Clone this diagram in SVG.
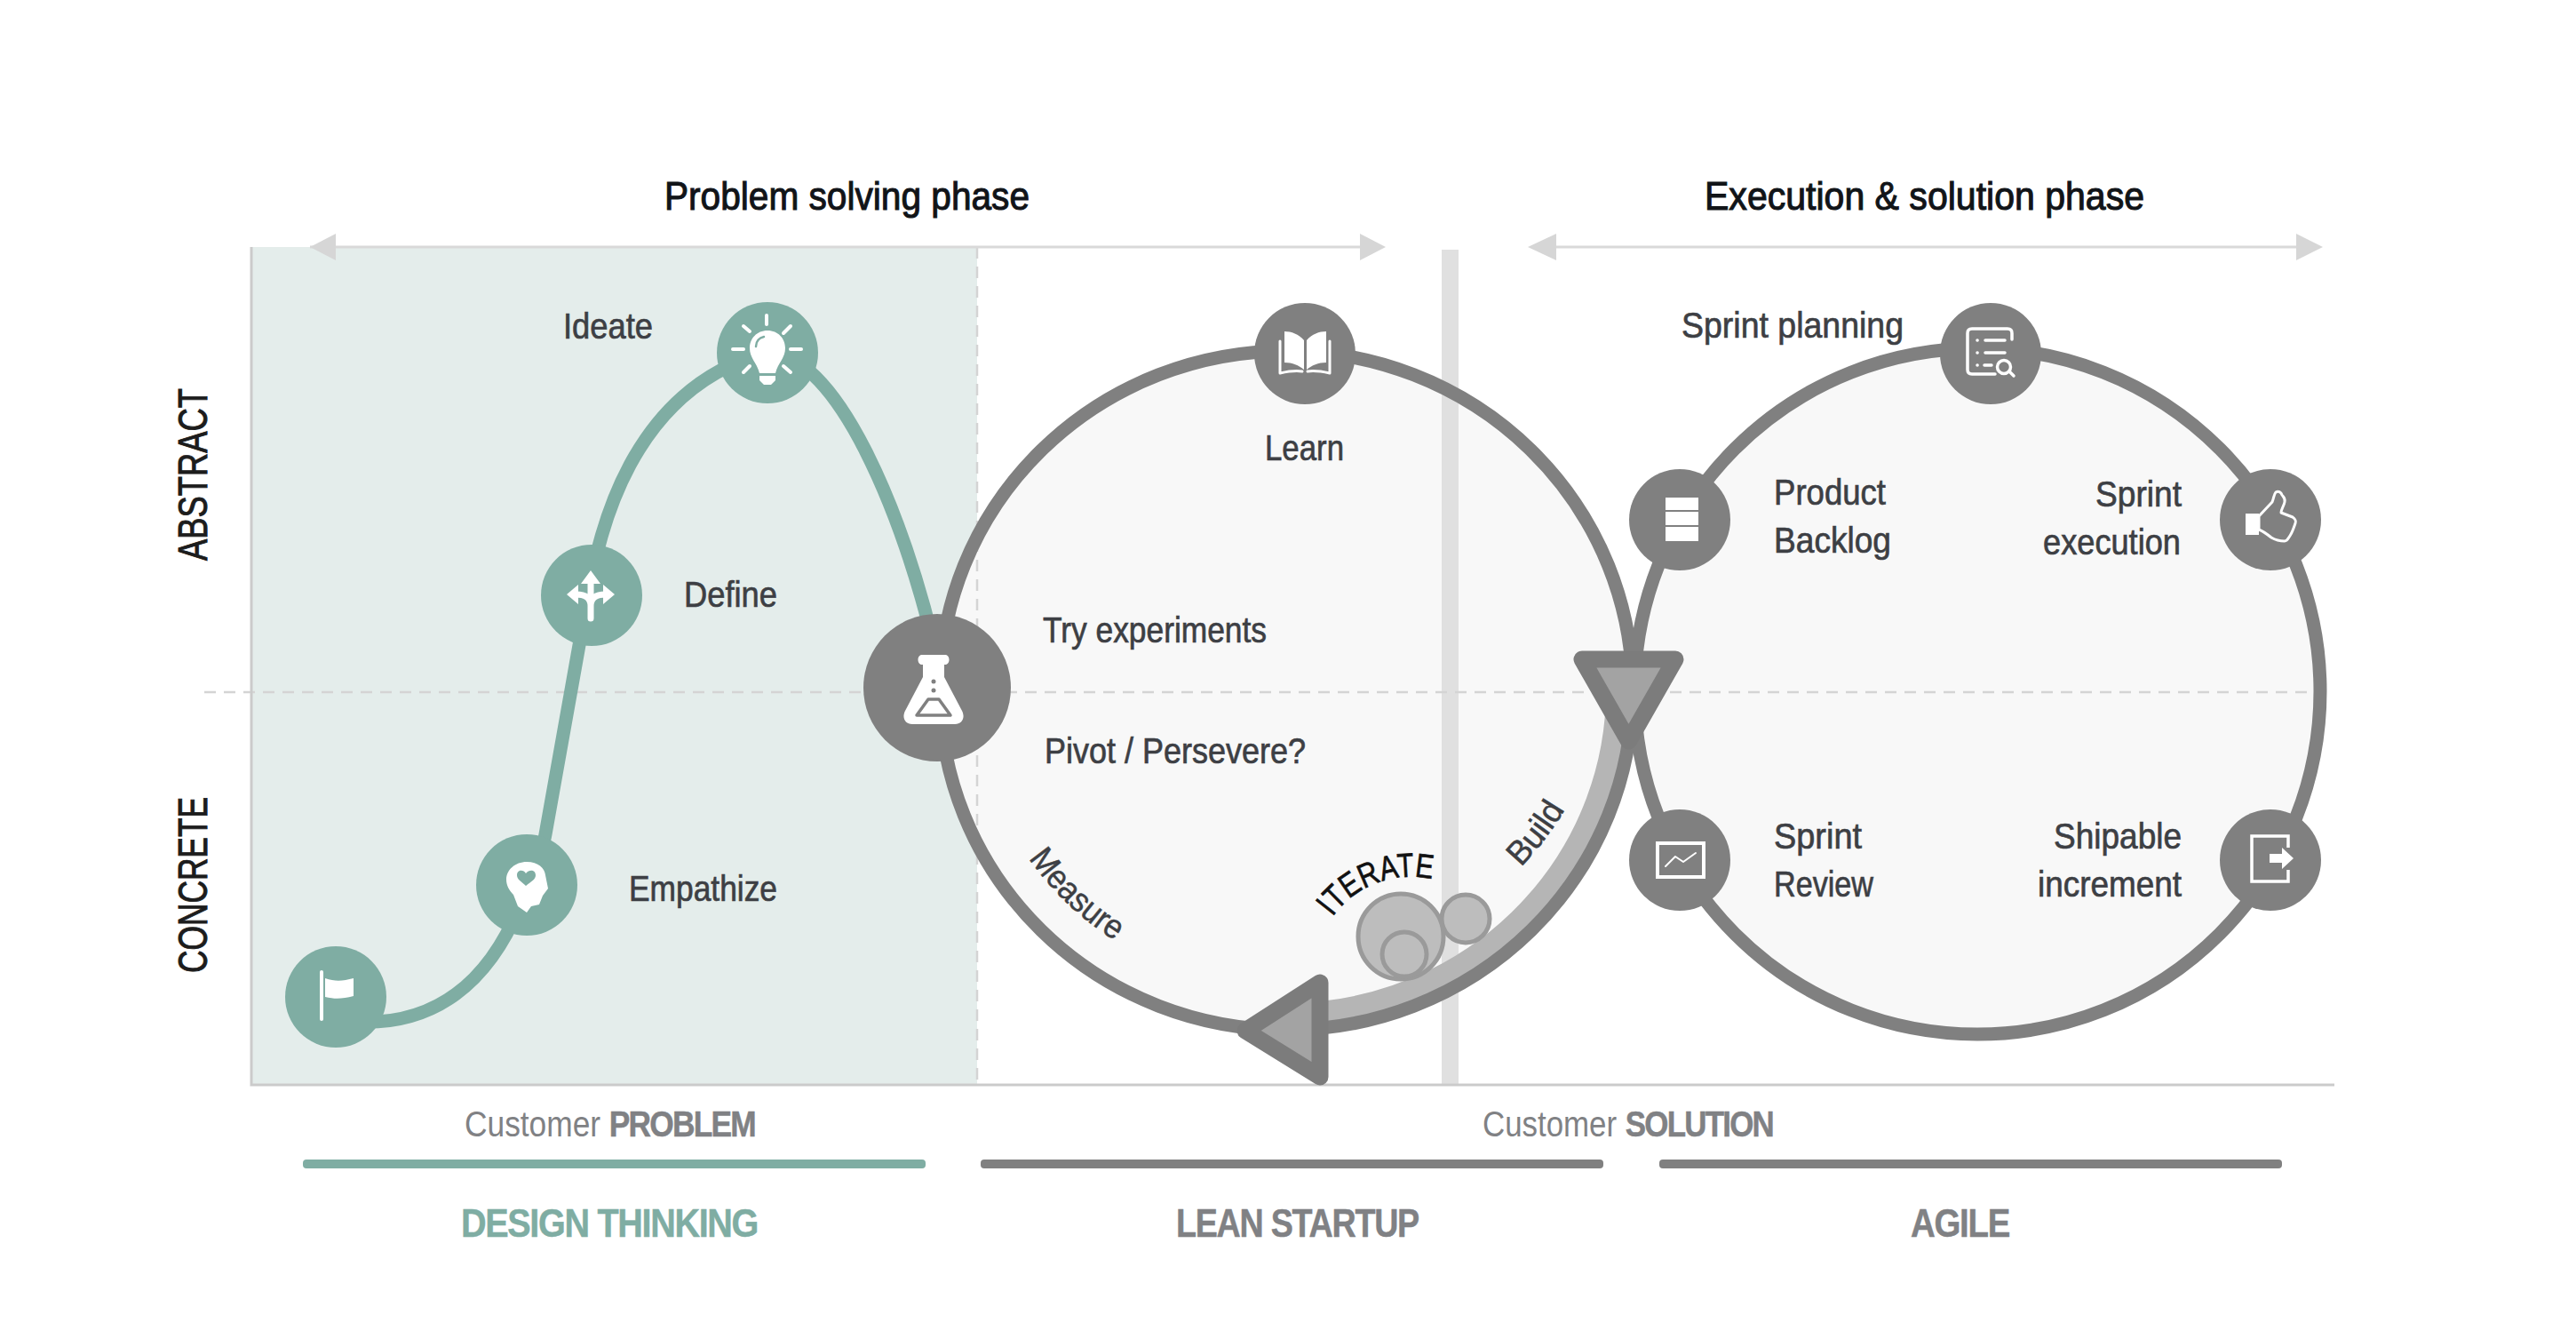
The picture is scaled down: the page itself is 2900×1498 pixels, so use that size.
<svg xmlns="http://www.w3.org/2000/svg" width="2900" height="1498" viewBox="0 0 2900 1498">
<defs><style>
text{font-family:"Liberation Sans Narrow","Liberation Sans",Arial,sans-serif;}
.lbl{font-size:41px;fill:#3d3f44;stroke:#3d3f44;stroke-width:.7px;}
.ttl{font-size:45px;fill:#111418;stroke:#111418;stroke-width:1.1px;}
.axis{font-family:"Liberation Sans",Arial,sans-serif;font-size:47px;fill:#1c1c1c;stroke:#1c1c1c;stroke-width:1px;}
.cust{font-size:40px;fill:#808184;}
.cust tspan{font-weight:700;letter-spacing:-2px;stroke:#808184;stroke-width:.5px;}
.meth{font-size:45px;font-weight:700;fill:#808184;letter-spacing:-1.500px;stroke:#808184;stroke-width:.5px;}
.nt{fill:#7fada3;}
.ng{fill:#808080;}
.ic{fill:none;stroke:#fff;stroke-linecap:round;stroke-linejoin:round;}
.wf{fill:#fff;}
.loop{fill:none;stroke:#808080;stroke-width:15;}
.dash{fill:none;stroke:#d4d4d4;stroke-width:2.5;stroke-dasharray:13 9;}
.tri{fill:#a3a3a3;stroke:#7c7c7c;stroke-width:19;stroke-linejoin:round;}
.bub{stroke:#9a9a9a;stroke-width:5;fill:#bdbdbd;}
.arw{fill:#d6d6d6;}
.curve{stroke:#3d3f44;stroke-width:.5px;}
</style></defs>
<rect width="2900" height="1498" fill="#fff"/>
<g id="background">
<rect x="283" y="278" width="817" height="943" fill="#e4edeb"/>
<ellipse cx="1448" cy="777" rx="390" ry="382" fill="#f8f8f8"/>
<circle cx="2226" cy="778" r="386" fill="#f8f8f8"/>
<rect x="1623" y="281" width="19" height="940" fill="#e0e0e0"/>
<path d="M230 779H2622" class="dash"/>
<path d="M1100 278V1221" class="dash"/>
<path d="M283 278V1221H2628" fill="none" stroke="#cbcbcb" stroke-width="3"/>
</g>
<g id="phase-arrows">
<path d="M349 278H1535M1725 278H2590" fill="none" stroke="#d9d9d9" stroke-width="3"/>
<polygon class="arw" points="349,278 378,263 378,293"/>
<polygon class="arw" points="1560,278 1531,263 1531,293"/>
<polygon class="arw" points="1720,278 1752,263 1752,293"/>
<polygon class="arw" points="2615,278 2585,263 2585,293"/>
</g>
<g id="connectors">
<path d="M400 1150C490 1155 550 1105 585 1020C597 995 608 972 614 939L662 670C672 620 700 440 864 396C945 400 1015 580 1050 720" fill="none" stroke="#7fada3" stroke-width="15"/>
<path d="M1820 777A372 364 0 0 1 1490 1138.700" fill="none" stroke="#b5b5b5" stroke-width="24"/>
<ellipse class="loop" cx="1448" cy="777" rx="390" ry="382"/>
<circle class="loop" cx="2226" cy="778" r="386"/>
<polygon class="tri" points="1781,742 1886,742 1833.500,834"/>
<polygon class="tri" points="1486,1106 1486,1212 1402,1160"/>
</g>
<g id="iterate">
<circle class="bub" cx="1650" cy="1034" r="27"/>
<circle class="bub" cx="1577" cy="1054" r="48"/>
<circle class="bub" cx="1581" cy="1074" r="25"/>
</g>
<g id="node-start">
<circle class="nt" cx="378" cy="1122" r="57"/>
<rect class="wf" x="360" y="1092" width="4" height="57" rx="2"/>
<path class="wf" d="M366 1101C378 1105 386 1104 398 1101V1121C386 1124 378 1125 366 1122Z"/>
</g>
<g id="node-empathize">
<circle class="nt" cx="593" cy="996" r="57"/>
<path class="wf" d="M593 970C606 970 613 977 614 985L617 1000L611 1008L607 1018L598 1020L593 1027L583 1020L578 1007C573 1002 570 996 570 990C570 979 580 970 593 970Z"/>
<path class="nt" d="M592 997C587 992 582 990 582 985C582 979 589 978 592 983C596 978 603 979 603 985C603 990 598 992 592 997Z"/>
</g>
<g id="node-define">
<circle class="nt" cx="666" cy="670" r="57"/>
<path class="ic" d="M665 696V652M665 682C665 672 658 669 648 669M665 682C665 672 672 669 682 669" stroke-width="7"/>
<path class="wf" d="M665 642L676 657H654ZM638 669L651 658V680ZM692 669L679 658V680Z"/>
</g>
<g id="node-ideate">
<circle class="nt" cx="864" cy="397" r="57"/>
<path class="wf" d="M864 372C876 372 884 381 884 392C884 403 876 408 873 420H855C852 408 844 403 844 392C844 381 852 372 864 372ZM855 423H873V428L868 433H860L855 428Z"/>
<path fill="none" stroke="#7fada3" stroke-width="2.500" stroke-linecap="round" d="M851 390C851 384 855 380 860 379"/>
<path class="ic" stroke-width="4" d="M863 355V365M825 393H837M890 393H902M837 367L844 373M890 367L882 375M837 419L844 412M890 419L882 412"/>
</g>
<g id="node-measure">
<circle class="ng" cx="1055" cy="774" r="83"/>
<path class="wf" d="M1038 737H1064C1070 737 1070 748 1064 748H1063V762L1083 800C1087 808 1083 815 1075 815H1027C1019 815 1015 808 1019 800L1039 762V748H1038C1032 748 1032 737 1038 737Z"/>
<path d="M1045 787H1057L1070 805H1032Z" fill="#fff" stroke="#808080" stroke-width="3.500" stroke-linejoin="round"/>
<circle class="ng" cx="1051" cy="767" r="2.500"/><circle class="ng" cx="1051" cy="777" r="2.500"/>
</g>
<g id="node-learn">
<circle class="ng" cx="1469" cy="398" r="57"/>
<path class="wf" d="M1468 383C1462 376 1454 373 1446 373V408C1455 408 1462 411 1468 416ZM1471 383C1477 376 1485 373 1493 373V408C1484 408 1477 411 1471 416Z"/>
<path class="ic" stroke-width="3" d="M1441 384V420C1450 418 1460 417 1466 418M1497 384V420C1488 418 1478 417 1472 418"/>
</g>
<g id="node-sprint-planning">
<circle class="ng" cx="2241" cy="398" r="57"/>
<path class="ic" stroke-width="3.500" d="M2265 382V375Q2265 370 2260 370H2220Q2215 370 2215 375V416Q2215 421 2220 421H2246"/>
<path class="ic" stroke-width="3.500" d="M2226 383h.1M2235 383H2257M2226 397h.1M2235 397H2257M2226 411h.1M2234 411H2242"/>
<circle cx="2256" cy="413" r="7.500" fill="none" stroke="#fff" stroke-width="3.500"/>
<path class="ic" stroke-width="3.500" d="M2262 418L2267 423"/>
</g>
<g id="node-product-backlog">
<circle class="ng" cx="1891" cy="585" r="57"/>
<rect class="wf" x="1875" y="560" width="37" height="14"/>
<rect class="wf" x="1875" y="576" width="37" height="15"/>
<rect class="wf" x="1875" y="593" width="37" height="16"/>
</g>
<g id="node-sprint-execution">
<circle class="ng" cx="2556" cy="585" r="57"/>
<rect class="wf" x="2528" y="578" width="15" height="24"/>
<path d="M2543 581L2558 565C2560 560 2560 556 2562 554C2565 552 2568 554 2569 557C2571 560 2573 561 2572 565C2571 570 2568 573 2568 577L2581 582C2584 584 2585 587 2584 589C2582 595 2580 600 2578 603C2576 606 2575 609 2572 609C2566 609 2562 608 2557 605C2552 601 2548 598 2543 596Z" fill="#808080" stroke="#fff" stroke-width="3" stroke-linejoin="round"/>
</g>
<g id="node-sprint-review">
<circle class="ng" cx="1891" cy="968" r="57"/>
<rect x="1866" y="949" width="52" height="38" fill="none" stroke="#fff" stroke-width="4"/>
<path class="ic" stroke-width="2" d="M1875 975L1886 964L1895 970L1909 960"/>
</g>
<g id="node-shipable-increment">
<circle class="ng" cx="2556" cy="968" r="57"/>
<path d="M2576 954V941H2535V992H2576V979" fill="none" stroke="#fff" stroke-width="3.500"/>
<path class="wf" d="M2555 961H2569V954L2582 966L2569 978V971H2555Z"/>
</g>
<g id="labels">
<text class="ttl" x="748" y="236" textLength="411" lengthAdjust="spacingAndGlyphs">Problem solving phase</text>
<text class="ttl" x="1919" y="236" textLength="495" lengthAdjust="spacingAndGlyphs">Execution &amp; solution phase</text>
<text class="axis" transform="translate(233 631) rotate(-90)" textLength="194" lengthAdjust="spacingAndGlyphs">ABSTRACT</text>
<text class="axis" transform="translate(233 1095) rotate(-90)" textLength="198" lengthAdjust="spacingAndGlyphs">CONCRETE</text>
<text class="lbl" x="634" y="381" textLength="101" lengthAdjust="spacingAndGlyphs">Ideate</text>
<text class="lbl" x="770" y="683" textLength="105" lengthAdjust="spacingAndGlyphs">Define</text>
<text class="lbl" x="708" y="1014" textLength="167" lengthAdjust="spacingAndGlyphs">Empathize</text>
<text class="lbl" x="1424" y="518" textLength="89" lengthAdjust="spacingAndGlyphs">Learn</text>
<text class="lbl" x="1174" y="723" textLength="252" lengthAdjust="spacingAndGlyphs">Try experiments</text>
<text class="lbl" x="1176" y="859" textLength="294" lengthAdjust="spacingAndGlyphs">Pivot / Persevere?</text>
<text class="lbl" x="1893" y="380" textLength="250" lengthAdjust="spacingAndGlyphs">Sprint planning</text>
<text class="lbl" x="1997" y="568" textLength="126" lengthAdjust="spacingAndGlyphs">Product</text>
<text class="lbl" x="1997" y="622" textLength="132" lengthAdjust="spacingAndGlyphs">Backlog</text>
<text class="lbl" x="2359" y="570" textLength="97" lengthAdjust="spacingAndGlyphs">Sprint</text>
<text class="lbl" x="2300" y="624" textLength="155" lengthAdjust="spacingAndGlyphs">execution</text>
<text class="lbl" x="1997" y="955" textLength="99" lengthAdjust="spacingAndGlyphs">Sprint</text>
<text class="lbl" x="1997" y="1009" textLength="112" lengthAdjust="spacingAndGlyphs">Review</text>
<text class="lbl" x="2312" y="955" textLength="144" lengthAdjust="spacingAndGlyphs">Shipable</text>
<text class="lbl" x="2294" y="1009" textLength="162" lengthAdjust="spacingAndGlyphs">increment</text>
<path id="pm" d="M1158 966A341 341 0 0 0 1262 1063" fill="none"/>
<path id="pb" d="M1712 976A338 338 0 0 0 1768 900" fill="none"/>
<path id="pi" d="M1500 1032A110 110 0 0 1 1615 990" fill="none"/>
<text font-size="38" fill="#3d3f44" class="curve"><textPath href="#pm" textLength="135" lengthAdjust="spacingAndGlyphs">Measure</textPath></text>
<text font-size="38" fill="#3d3f44" class="curve"><textPath href="#pb" textLength="82" lengthAdjust="spacingAndGlyphs">Build</textPath></text>
<text font-size="38" fill="#111" stroke="#111" stroke-width=".7"><textPath href="#pi" textLength="127" lengthAdjust="spacingAndGlyphs">ITERATE</textPath></text>
<text class="cust" x="523" y="1279" textLength="327" lengthAdjust="spacingAndGlyphs">Customer <tspan>PROBLEM</tspan></text>
<text class="cust" x="1669" y="1279" textLength="327" lengthAdjust="spacingAndGlyphs">Customer <tspan>SOLUTION</tspan></text>
<text class="meth" x="519" y="1392" textLength="334" lengthAdjust="spacingAndGlyphs" style="fill:#7fada3;stroke:#7fada3">DESIGN THINKING</text>
<text class="meth" x="1324" y="1392" textLength="273" lengthAdjust="spacingAndGlyphs">LEAN STARTUP</text>
<text class="meth" x="2151" y="1392" textLength="111" lengthAdjust="spacingAndGlyphs">AGILE</text>
</g>
<g id="method-bars">
<rect x="341" y="1305" width="701" height="10" rx="4" fill="#7fada3"/>
<rect x="1104" y="1305" width="701" height="10" rx="4" fill="#808080"/>
<rect x="1868" y="1305" width="701" height="10" rx="4" fill="#808080"/>
</g>
</svg>
